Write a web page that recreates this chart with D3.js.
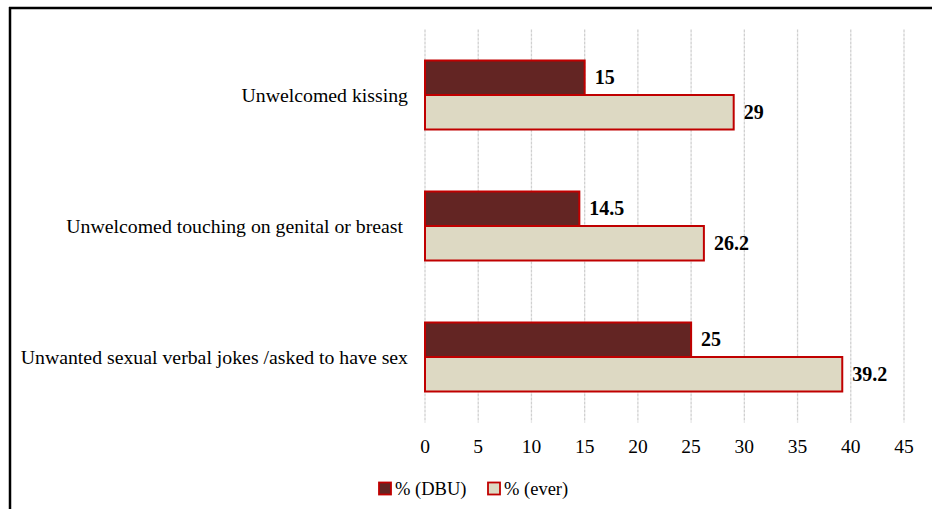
<!DOCTYPE html>
<html>
<head>
<meta charset="utf-8">
<script src="https://cdn.jsdelivr.net/npm/d3@7"></script>
<style>
  body { margin: 0; background: #fff; }
  text { font-family: "Liberation Serif", "Times New Roman", serif; fill: #000; }
</style>
</head>
<body>
<svg width="932" height="509"></svg>
<script>
// data
const categories = ["Unwelcomed kissing", "Unwelcomed touching on genital or breast ", "Unwanted sexual verbal jokes /asked to have sex"];
const dbu = [15, 14.5, 25];
const ever = [29, 26.2, 39.2];
const seriesNames = ["% (DBU)", "% (ever)"];
const ticks = [0, 5, 10, 15, 20, 25, 30, 35, 40, 45];

const svg = d3.select("svg");

// frame lines
svg.append("line").attr("x1", 10).attr("x2", 10).attr("y1", 7).attr("y2", 509)
  .attr("stroke", "#000").attr("stroke-width", 2.5);
svg.append("line").attr("x1", 9).attr("x2", 932).attr("y1", 8).attr("y2", 8)
  .attr("stroke", "#000").attr("stroke-width", 2.5);

const plotLeft = 425, plotRight = 904, plotTop = 29.5, plotBottom = 422.5;

const x = d3.scaleLinear().domain([0, 45]).range([plotLeft, plotRight]);
const y = d3.scaleBand().domain(categories).range([plotTop, plotBottom]).padding(0);
const barH = 34.5;

// gridlines
svg.append("g").selectAll("line")
  .data(ticks)
  .enter().append("line")
    .attr("x1", d => x(d)).attr("x2", d => x(d))
    .attr("y1", plotTop).attr("y2", plotBottom)
    .attr("stroke", "#d0d0d0")
    .attr("stroke-width", 1.3)
    .attr("stroke-dasharray", "3,1");

// tick labels
svg.append("g").selectAll("text")
  .data(ticks)
  .enter().append("text")
    .attr("x", d => x(d))
    .attr("y", 453)
    .attr("text-anchor", "middle")
    .style("font-size", "19.5px")
    .text(d => d);

// category labels
svg.append("g").selectAll("text")
  .data(categories)
  .enter().append("text")
    .attr("x", 408)
    .attr("y", d => y(d) + y.bandwidth() / 2 + 7)
    .attr("text-anchor", "end")
    .style("font-size", "19.8px")
    .style("white-space", "pre")
    .text(d => d);

const series = [
  { name: seriesNames[0], values: dbu, fill: "#632523", off: -barH },
  { name: seriesNames[1], values: ever, fill: "#ddd9c3", off: 0 }
];

series.forEach(function(s) {
  const g = svg.append("g");
  g.selectAll("rect")
    .data(categories)
    .enter().append("rect")
      .attr("x", x(0))
      .attr("y", d => y(d) + y.bandwidth() / 2 + s.off)
      .attr("width", (d, i) => x(s.values[i]) - x(0))
      .attr("height", barH)
      .attr("fill", s.fill)
      .attr("stroke", "#c00000")
      .attr("stroke-width", 2);

  g.selectAll("text")
    .data(categories)
    .enter().append("text")
      .attr("x", (d, i) => x(s.values[i]) + 10)
      .attr("y", d => y(d) + y.bandwidth() / 2 + s.off + barH / 2 + 6.5)
      .style("font-size", "20px")
      .style("font-weight", "bold")
      .text((d, i) => s.values[i]);
});

// legend
const legend = svg.append("g");
const legendX = [379, 488];
series.forEach(function(s, i) {
  legend.append("rect")
    .attr("x", legendX[i]).attr("y", 482.5)
    .attr("width", 12).attr("height", 12)
    .attr("fill", s.fill)
    .attr("stroke", "#c00000").attr("stroke-width", 1.8);
  legend.append("text")
    .attr("x", legendX[i] + 16).attr("y", 495)
    .style("font-size", "18.5px")
    .text(s.name);
});
</script>
</body>
</html>
